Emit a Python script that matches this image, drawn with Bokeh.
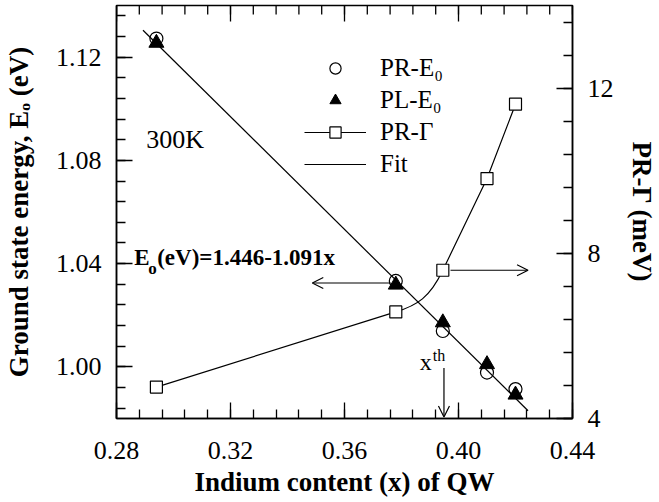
import numpy as np
from bokeh.plotting import figure
from bokeh.models import (Range1d, LinearAxis, FixedTicker, NumeralTickFormatter,
                          Legend, LegendItem, Arrow, OpenHead, Label)
from bokeh.embed import file_html
from bokeh.resources import INLINE

# ---- data ----
indium_x = [0.294, 0.378, 0.3945, 0.410, 0.420]
pr_e0 = [1.1272, 1.0333, 1.0139, 0.9978, 0.9914]
pl_e0 = [1.1255, 1.0318, 1.0172, 1.0010, 0.9892]
pr_gamma = [4.76, 6.58, 7.59, 9.81, 11.61]
fit_x = [0.2893, 0.4244]
fit_y = [1.1304, 0.9830]

x_ticks = [0.28, 0.32, 0.36, 0.40, 0.44]
e_ticks = [1.00, 1.04, 1.08, 1.12]
g_ticks = [4, 8, 12]

x_minor = [round(v, 4) for v in np.arange(0.28, 0.4401, 0.008)]
e_minor = [round(v, 4) for v in np.arange(0.984, 1.1401, 0.008)]
g_minor = [round(v, 4) for v in np.arange(4.0, 14.01, 0.8)]

SERIF = "Liberation Serif"
X0, X1 = 0.28, 0.44
Y0, Y1 = 0.98, 1.14

p = figure(width=659, height=502,
           x_range=Range1d(X0, X1), y_range=Range1d(Y0, Y1),
           output_backend="svg", toolbar_location=None,
           min_border_left=115, min_border_right=81,
           min_border_top=5, min_border_bottom=84)
p.extra_y_ranges = {"gamma": Range1d(4, 14)}
p.grid.visible = False
p.outline_line_color = "black"
p.outline_line_width = 1.5
p.background_fill_color = "white"
p.border_fill_color = "white"


def style_axis(ax, ticks, minor, fmt):
    ax.ticker = FixedTicker(ticks=ticks, minor_ticks=minor)
    ax.formatter = NumeralTickFormatter(format=fmt)
    ax.major_tick_in = 16
    ax.major_tick_out = 0
    ax.minor_tick_in = 9
    ax.minor_tick_out = 0
    ax.axis_line_color = "black"
    ax.axis_line_width = 1.5
    ax.major_tick_line_color = "black"
    ax.major_tick_line_width = 1.3
    ax.minor_tick_line_color = "black"
    ax.minor_tick_line_width = 1.3
    ax.major_label_text_font = SERIF
    ax.major_label_text_color = "black"
    ax.major_label_text_font_size = "26px"
    ax.axis_label_text_font = SERIF
    ax.axis_label_text_font_style = "bold"
    ax.axis_label_text_font_size = "27px"
    ax.axis_label_text_color = "black"


xb = p.xaxis[0]
style_axis(xb, x_ticks, x_minor, "0.00")
xb.axis_label = "Indium content (x) of QW"
xb.major_label_standoff = 23
xb.axis_label_standoff = 5

yl = p.yaxis[0]
style_axis(yl, e_ticks, e_minor, "0.00")
yl.axis_label = "Ground state energy, Eₒ (eV)"
yl.major_label_standoff = 15
yl.axis_label_standoff = 19

yr = LinearAxis(y_range_name="gamma", axis_label="PR-Γ (meV)")
style_axis(yr, g_ticks, g_minor, "0")
yr.major_label_standoff = 15
yr.axis_label_standoff = 10
p.add_layout(yr, "right")

# mirrored ticks along the top edge (no labels there)
p.ray(x=x_ticks, y=[Y1] * len(x_ticks), length=16, angle=-np.pi / 2,
      length_units="screen", line_color="black", line_width=1.3)
p.ray(x=x_minor, y=[Y1] * len(x_minor), length=9, angle=-np.pi / 2,
      length_units="screen", line_color="black", line_width=1.3)

# ---- PR-Gamma connecting curve ----
g1 = p.line(indium_x[:2], pr_gamma[:2], y_range_name="gamma",
            line_color="black", line_width=1.2)
p.line(indium_x[2:], pr_gamma[2:], y_range_name="gamma",
       line_color="black", line_width=1.2)
# smooth join between 2nd and 3rd point, tangents from neighbouring segments
a, b = 0.09, 0.3
cx0 = indium_x[1] + (indium_x[1] - indium_x[0]) * a
cy0 = pr_gamma[1] + (pr_gamma[1] - pr_gamma[0]) * a
cx1 = indium_x[2] - (indium_x[3] - indium_x[2]) * b
cy1 = pr_gamma[2] - (pr_gamma[3] - pr_gamma[2]) * b
p.bezier(x0=[indium_x[1]], y0=[pr_gamma[1]], x1=[indium_x[2]], y1=[pr_gamma[2]],
         cx0=[cx0], cy0=[cy0], cx1=[cx1], cy1=[cy1], y_range_name="gamma",
         line_color="black", line_width=1.2)
sq = p.scatter(indium_x, pr_gamma, marker="square", size=12, y_range_name="gamma",
               fill_color="white", line_color="black", line_width=1.2)

circ = p.scatter(indium_x, pr_e0, marker="circle", size=13,
                 fill_color=None, line_color="black", line_width=1.2)
tri = p.scatter(indium_x, pl_e0, marker="triangle", size=15,
                fill_color="black", line_color="black", line_width=1)
fit = p.line(fit_x, fit_y, line_color="black", line_width=1.2)

legend = Legend(items=[
    LegendItem(label="PR-E₀", renderers=[circ]),
    LegendItem(label="PL-E₀", renderers=[tri]),
    LegendItem(label="PR-Γ", renderers=[g1, sq]),
    LegendItem(label="Fit", renderers=[fit]),
], location=(188, 240), border_line_color=None, background_fill_alpha=0,
    label_text_font=SERIF, label_text_font_size="25px", label_text_color="black",
    glyph_width=62, glyph_height=28, label_height=28, spacing=4,
    padding=0, margin=0, label_standoff=14)
p.add_layout(legend)

# ---- arrows ----
p.add_layout(Arrow(end=OpenHead(size=11, line_width=1.2, line_color="black"),
                   x_start=0.3762, y_start=1.0325, x_end=0.3487, y_end=1.0325,
                   line_color="black", line_width=1.2))
p.add_layout(Arrow(end=OpenHead(size=11, line_width=1.2, line_color="black"),
                   x_start=0.3972, y_start=7.59, x_end=0.4244, y_end=7.59,
                   y_range_name="gamma", line_color="black", line_width=1.2))
p.add_layout(Arrow(end=OpenHead(size=11, line_width=1.2, line_color="black"),
                   x_start=0.3949, y_start=0.9996, x_end=0.3949, y_end=0.9806,
                   line_color="black", line_width=1.2))

# ---- text annotations ----
p.add_layout(Label(x=0.2904, y=1.0824, text="300K", text_font=SERIF,
                   text_font_size="26px", text_color="black"))
p.add_layout(Label(x=0.2862, y=1.0376, text="E", text_font=SERIF,
                   text_font_style="bold", text_font_size="23px", text_color="black"))
p.add_layout(Label(x=0.2862, y=1.0376, x_offset=14, y_offset=-8, text="o",
                   text_font=SERIF, text_font_style="bold",
                   text_font_size="17px", text_color="black"))
p.add_layout(Label(x=0.2862, y=1.0376, x_offset=23, text="(eV)=1.446-1.091x",
                   text_font=SERIF, text_font_style="bold",
                   text_font_size="23px", text_color="black"))
p.add_layout(Label(x=0.3864, y=0.9970, text="x", text_font=SERIF,
                   text_font_size="24px", text_color="black"))
p.add_layout(Label(x=0.3864, y=0.9970, x_offset=13, y_offset=11, text="th",
                   text_font=SERIF, text_font_size="16px", text_color="black"))

open("out.html", "w").write(file_html(p, INLINE))
